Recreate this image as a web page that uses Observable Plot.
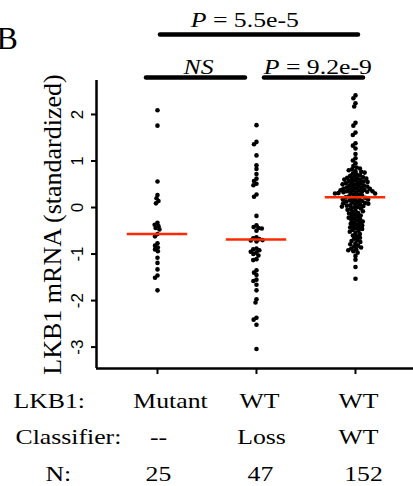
<!DOCTYPE html>
<html><head><meta charset="utf-8">
<script src="https://cdn.jsdelivr.net/npm/d3@7"></script>
<script src="https://cdn.jsdelivr.net/npm/@observablehq/plot@0.6"></script>
<style>
body{margin:0;background:#fff;overflow:hidden}
svg text{font-family:"Liberation Serif","Times New Roman",serif}
svg g.sans text{font-family:"Liberation Sans",Arial,sans-serif}
</style>
</head><body><div id="chart"></div>
<script>
// ---- data ----
const groups = ["Mutant", "WT-Loss", "WT-WT"];
const rowLabels = ["LKB1:", "Classifier:", "N:"];
const lkb1Row = ["Mutant", "WT", "WT"];
const classifierRow = ["--", "Loss", "WT"];
const nRow = ["25", "47", "152"];
const yTicks = [-3, -2, -1, 0, 1, 2];
const medians = [-0.57, -0.69, 0.22];

const mutantValues = [2.09, 1.76, 0.56, 0.27, 0.20, 0.14, 0.09, -0.33, -0.37, -0.40,
  -0.44, -0.47, -0.57, -0.62, -0.77, -0.82, -0.86, -0.90, -0.94, -1.08,
  -1.19, -1.33, -1.46, -1.51, -1.78];

const wtLossValues = [1.77, 1.41, 1.36, 1.12, 0.91, 0.83, 0.72, 0.62, 0.57, 0.51,
  0.48, 0.28, 0.23, -0.18, -0.38, -0.42, -0.44, -0.45, -0.50, -0.64,
  -0.66, -0.68, -0.70, -0.71, -0.73, -0.88, -0.90, -0.92, -0.95, -0.97,
  -1.00, -1.03, -1.11, -1.13, -1.35, -1.40, -1.45, -1.55, -1.58, -1.66,
  -1.78, -1.97, -2.04, -2.37, -2.41, -2.52, -3.04];

const wtWtValues = [2.41, 2.35, 2.24, 2.17, 1.82, 1.76, 1.61, 1.56, 1.38, 1.33,
  1.27, 1.15, 1.06, 1.01, 0.95, 0.89, 0.86, 0.84, 0.82, 0.80,
  0.78, 0.77, 0.75, 0.73, 0.71,
  0.69, 0.68, 0.66, 0.65, 0.64, 0.63, 0.62, 0.61, 0.60, 0.59,
  0.58, 0.57, 0.56, 0.55, 0.54, 0.53, 0.52, 0.51, 0.50, 0.49,
  0.48, 0.47, 0.46, 0.45, 0.44, 0.43, 0.42, 0.41, 0.41, 0.40,
  0.39, 0.38, 0.37, 0.37, 0.36, 0.35, 0.35, 0.34, 0.33, 0.33,
  0.32, 0.31, 0.31, 0.30, 0.30,
  0.28, 0.27, 0.25, 0.24, 0.23, 0.22,
  0.21, 0.20, 0.19, 0.18, 0.17, 0.16, 0.15, 0.14, 0.13, 0.12,
  0.11, 0.10, 0.09, 0.08, 0.07, 0.06, 0.05, 0.04, 0.03, 0.02,
  0.01, 0.00,
  -0.02, -0.03, -0.05, -0.07, -0.08, -0.10, -0.12, -0.13, -0.15, -0.17,
  -0.18, -0.20, -0.22, -0.23, -0.25, -0.27, -0.28, -0.30, -0.32, -0.33,
  -0.35, -0.37, -0.38, -0.40, -0.42, -0.43, -0.45, -0.46, -0.48, -0.50,
  -0.52, -0.55, -0.57, -0.60, -0.62, -0.65, -0.67, -0.70, -0.72, -0.74,
  -0.77, -0.79, -0.82, -0.84, -0.86, -0.88, -0.90, -0.92, -0.94, -0.97,
  -1.04, -1.12, -1.28, -1.53];

const comparisonFrom = [0, 0, 1];
const comparisonTo = [2, 1, 2];
const comparisonItalic = ["P", "NS", "P"];
const comparisonRest = ["\u00a0= 5.5e-5", "", "\u00a0= 9.2e-9"];

// ---- layout / style ----
const W = 413, H = 486;
const M = {left: 96, right: 0, top: 80, bottom: 118};
const xDomain = [-0.616, 2.586];
const yDomain = [-3.46, 2.73];
const red = "#ff2a00";
const stretchX = 1.17; // the reference's lettering is drawn slightly wide

const xs = Plot.scale({x: {domain: xDomain, range: [M.left, W - M.right]}});
const frameMid = (M.left + W - M.right) / 2;

const seriesList = [mutantValues, wtLossValues, wtWtValues];
const dodgePadding = [-1.2, -1.2, -1.1];
const dotMarks = seriesList.map((vals, i) =>
  Plot.dot(vals, Plot.dodgeX({anchor: "middle", padding: dodgePadding[i]},
    {y: d => d, r: 2.3, fill: "black", stroke: "none", dx: xs.apply(i) - frameMid}))
);

const medianData = medians.map((m, i) => ({i, m}));

// annotation styling per comparison
const barDx = [3, -11, 8];
const barDy = [-46, -3, -3];
const labelDx = [-50, -8.5, -26.5];
const labelDy = [-53.5, -6.5, -6.5];
const italicAnchor = ["end", "middle", "end"];

const annoMarks = [];
comparisonFrom.forEach((f, k) => {
  const t = comparisonTo[k];
  annoMarks.push(Plot.ruleY([yDomain[1]], {x1: f, x2: t, dx: barDx[k], dy: barDy[k],
    stroke: "black", strokeWidth: 4.5, strokeLinecap: "round"}));
  annoMarks.push(Plot.text([comparisonItalic[k]], {x: (f + t) / 2, y: yDomain[1], text: d => d,
    dx: labelDx[k], dy: labelDy[k], textAnchor: italicAnchor[k], lineAnchor: "bottom",
    fontStyle: "italic", fontSize: 22, fill: "black", className: "stretch"}));
  if (comparisonRest[k]) {
    annoMarks.push(Plot.text([comparisonRest[k]], {x: (f + t) / 2, y: yDomain[1], text: d => d,
      dx: labelDx[k], dy: labelDy[k], textAnchor: "start", lineAnchor: "bottom",
      fontSize: 22, fill: "black", className: "stretch"}));
  }
});

const rows = [lkb1Row, classifierRow, nRow];
const rowDy = [39, 75, 112];
const rowLabelDx = [-83, -81, -51];
const cellDx = [[13, 3, 3], [1, 5, 3], [1, 4, 8]];
const tableMarks = [];
rows.forEach((cells, r) => {
  tableMarks.push(Plot.text([rowLabels[r]], {frameAnchor: "bottom-left", text: d => d,
    dx: rowLabelDx[r], dy: rowDy[r], textAnchor: "start", lineAnchor: "bottom",
    fontSize: 22, fill: "black", className: "stretch"}));
  cells.forEach((c, i) => {
    tableMarks.push(Plot.text([c], {x: i, frameAnchor: "bottom", text: d => d,
      dx: cellDx[r][i], dy: rowDy[r], textAnchor: "middle", lineAnchor: "bottom",
      fontSize: 22, fill: "black", className: "stretch"}));
  });
});

const chart = Plot.plot({
  width: W, height: H,
  marginLeft: M.left, marginRight: M.right, marginTop: M.top, marginBottom: M.bottom,
  x: {domain: xDomain},
  y: {domain: yDomain},
  style: {background: "white", overflow: "visible"},
  marks: [
    ...dotMarks,
    Plot.ruleY(medianData, {y: "m", x1: d => d.i - 0.305, x2: d => d.i + 0.305, stroke: red, strokeWidth: 2.5}),
    Plot.ruleX([xDomain[0]], {stroke: "black", strokeWidth: 2.5}),
    Plot.ruleY([yDomain[0]], {stroke: "black", strokeWidth: 2.5}),
    Plot.axisY({ticks: yTicks, tickSize: 5, tickFormat: () => "", strokeWidth: 2, label: null}),
    Plot.text(yTicks, {y: d => d, text: d => String(d), frameAnchor: "left", dx: -19, rotate: -90,
      textAnchor: "middle", lineAnchor: "middle", fontSize: 17, fill: "black", className: "sans"}),
    Plot.axisX({ticks: [0, 1, 2], tickSize: 6, tickFormat: () => "", strokeWidth: 2, label: null}),
    Plot.text(["LKB1 mRNA (standardized)"], {frameAnchor: "left", text: d => d, dx: -44, rotate: -90,
      textAnchor: "middle", lineAnchor: "middle", fontSize: 26, fill: "black"}),
    Plot.text(["B"], {frameAnchor: "top-left", text: d => d, dx: -100, dy: -32, textAnchor: "start",
      lineAnchor: "bottom", fontSize: 32, fill: "black"}),
    ...annoMarks,
    ...tableMarks
  ]
});
document.getElementById("chart").appendChild(chart);

// widen the lettering around each text's own anchor point
d3.select(chart).selectAll("g.stretch text").each(function() {
  const el = d3.select(this);
  const x = +el.attr("x") || 0, y = +el.attr("y") || 0;
  const t = el.attr("transform") || "";
  el.attr("transform", `${t} translate(${x},${y}) scale(${stretchX},1) translate(${-x},${-y})`);
});
</script>
</body></html>
